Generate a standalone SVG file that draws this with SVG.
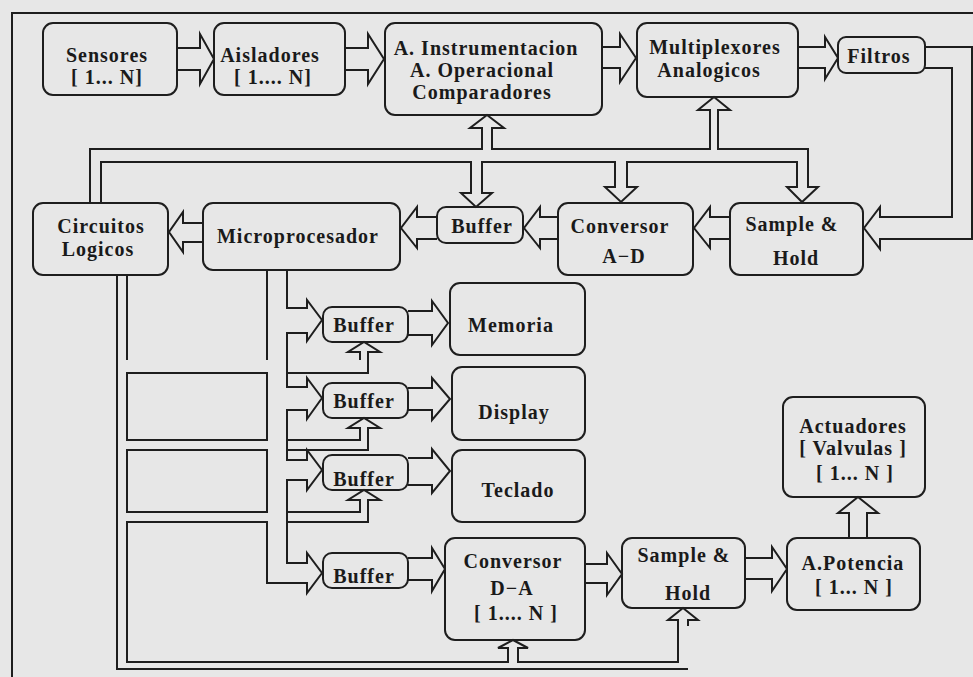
<svg xmlns="http://www.w3.org/2000/svg" width="973" height="677" viewBox="0 0 973 677">
  <style>
    .bg { fill: #e7e7e7; }
    .box { fill: none; stroke: #1e1e1e; stroke-width: 2; }
    .ln { fill: none; stroke: #1e1e1e; stroke-width: 2; stroke-linejoin: miter; }
    .t { font-family: "Liberation Serif", "Times New Roman", serif; font-weight: bold; font-size: 20px; letter-spacing: 1px; fill: #1a1a1a; text-anchor: middle; }
  </style>

  <rect class="bg" x="0" y="0" width="973" height="677"/>
  <!-- outer frame -->
  <path class="ln" d="M12,677 V13 H973"/>

  <!-- connectors -->
  <g id="connectors">
    <!-- top chain -->
    <polyline class="ln" points="177,48 200,48 200,34 214,59 200,84 200,70 177,70"/>
    <polyline class="ln" points="345,48 368,48 368,34 384,59 368,84 368,70 345,70"/>
    <polyline class="ln" points="602,47 620,47 620,34 636,58 620,82 620,68 602,68"/>
    <polyline class="ln" points="798,47 825,47 825,37 838,58 825,79 825,68 798,68"/>
    <!-- Filtros loop back to Sample & Hold -->
    <polyline class="ln" points="925,47 972,47 972,239 880,239 880,249 864,228 880,207 880,217 952,217 952,68 925,68"/>

    <!-- acquisition row -->
    <polyline class="ln" points="203,223 183,223 183,212 169,232 183,252 183,242 203,242"/>
    <polyline class="ln" points="437,217 417,217 417,207 401,228 417,248 417,239 437,239"/>
    <polyline class="ln" points="558,217 540,217 540,207 524,228 540,248 540,239 558,239"/>
    <polyline class="ln" points="730,217 710,217 710,207 694,228 710,248 710,239 730,239"/>

    <!-- control bus from Circuitos Logicos (upper) -->
    <polyline class="ln" points="90,203 90,149 482,149 482,128 470,128 487,115 504,128 492,128 492,149 710,149 710,110 698,110 714,97 730,110 718,110 718,149 808,149 808,187 818,187 802,202 787,187 797,187 797,162 627,162 627,187 637,187 621,202 605,187 615,187 615,162 482,162 482,193 492,193 476,207 461,193 471,193 471,162 101,162 101,203"/>

    <!-- lower buses -->
    <line class="ln" x1="127" y1="275" x2="127" y2="360"/>
    <line class="ln" x1="267" y1="270" x2="267" y2="360"/>
    <polyline class="ln" points="117,275 117,669 688,669"/>
    <rect class="box" x="127" y="373" width="140" height="67"/>
    <rect class="box" x="127" y="450" width="140" height="62"/>

    <!-- data bus from Microprocesador into buffers -->
    <polyline class="ln" points="287,270 287,308 307,308 307,300 322,320 307,341 307,333 287,333 287,387 307,387 307,378 322,398 307,419 307,410 287,410 287,460 307,460 307,450 322,470 307,490 307,480 287,480 287,563 307,563 307,553 322,573 307,593 307,583 267,583 267,522 127,522 127,662 508,662 508,648 498,648 513,640 528,648 518,648 518,662 678,662 678,620 668,620 683,608 698,620 688,620 688,626"/>

    <!-- buffer enables -->
    <polyline class="ln" points="287,373 368,373 368,352 380,352 364,342 348,352 360,352 360,360"/>
    <polyline class="ln" points="287,440 360,440 360,428 348,428 364,418 380,428 368,428 368,450 287,450"/>
    <polyline class="ln" points="287,512 360,512 360,500 348,500 364,490 380,500 368,500 368,522 287,522"/>

    <!-- buffer outputs -->
    <polyline class="ln" points="408,311 432,311 432,301 448,323 432,345 432,335 408,335"/>
    <polyline class="ln" points="408,388 432,388 432,378 450,399 432,420 432,410 408,410"/>
    <polyline class="ln" points="408,458 432,458 432,449 450,471 432,493 432,485 408,485"/>
    <polyline class="ln" points="408,558 432,558 432,548 445,569 432,591 432,580 408,580"/>

    <!-- output chain -->
    <polyline class="ln" points="585,564 607,564 607,553 622,574 607,595 607,583 585,583"/>
    <polyline class="ln" points="745,558 772,558 772,547 787,569 772,591 772,579 745,579"/>
    <polyline class="ln" points="849,538 849,513 838,513 858,497 878,513 867,513 867,538"/>
  </g>

  <g id="sensores">
    <rect class="box" x="43" y="23" width="134" height="72" rx="10"/>
    <text class="t" x="107" y="62">Sensores</text>
    <text class="t" x="107" y="84">[ 1... N]</text>
  </g>
  <g id="aisladores">
    <rect class="box" x="214" y="23" width="131" height="72" rx="10"/>
    <text class="t" x="270" y="62">Aisladores</text>
    <text class="t" x="273" y="84">[ 1.... N]</text>
  </g>
  <g id="instrumentacion">
    <rect class="box" x="385" y="23" width="217" height="92" rx="10"/>
    <text class="t" x="486" y="55">A. Instrumentacion</text>
    <text class="t" x="482" y="77">A. Operacional</text>
    <text class="t" x="482" y="99">Comparadores</text>
  </g>
  <g id="multiplexores">
    <rect class="box" x="637" y="23" width="161" height="74" rx="10"/>
    <text class="t" x="715" y="54">Multiplexores</text>
    <text class="t" x="709" y="77">Analogicos</text>
  </g>
  <g id="filtros">
    <rect class="box" x="838" y="37" width="87" height="36" rx="8"/>
    <text class="t" x="879" y="63">Filtros</text>
  </g>
  <g id="circuitos">
    <rect class="box" x="33" y="203" width="135" height="72" rx="10"/>
    <text class="t" x="101" y="233">Circuitos</text>
    <text class="t" x="98" y="256">Logicos</text>
  </g>
  <g id="microprocesador">
    <rect class="box" x="203" y="203" width="197" height="67" rx="10"/>
    <text class="t" x="298" y="243">Microprocesador</text>
  </g>
  <g id="buffer-ad">
    <rect class="box" x="437" y="207" width="86" height="36" rx="9"/>
    <text class="t" x="482" y="233">Buffer</text>
  </g>
  <g id="conversor-ad">
    <rect class="box" x="558" y="203" width="135" height="72" rx="10"/>
    <text class="t" x="620" y="233">Conversor</text>
    <text class="t" x="624" y="263">A−D</text>
  </g>
  <g id="sample-hold-in">
    <rect class="box" x="730" y="203" width="133" height="72" rx="10"/>
    <text class="t" x="792" y="231">Sample &amp;</text>
    <text class="t" x="796" y="265">Hold</text>
  </g>
  <g id="buffer-memoria">
    <rect class="box" x="323" y="307" width="85" height="35" rx="9"/>
    <text class="t" x="364" y="332">Buffer</text>
  </g>
  <g id="memoria">
    <rect class="box" x="450" y="283" width="135" height="72" rx="10"/>
    <text class="t" x="511" y="332">Memoria</text>
  </g>
  <g id="buffer-display">
    <rect class="box" x="323" y="383" width="85" height="35" rx="9"/>
    <text class="t" x="364" y="408">Buffer</text>
  </g>
  <g id="display">
    <rect class="box" x="452" y="367" width="133" height="73" rx="10"/>
    <text class="t" x="514" y="419">Display</text>
  </g>
  <g id="buffer-teclado">
    <rect class="box" x="323" y="455" width="85" height="35" rx="9"/>
    <text class="t" x="364" y="486">Buffer</text>
  </g>
  <g id="teclado">
    <rect class="box" x="452" y="450" width="133" height="72" rx="10"/>
    <text class="t" x="518" y="497">Teclado</text>
  </g>
  <g id="buffer-da">
    <rect class="box" x="323" y="553" width="85" height="35" rx="9"/>
    <text class="t" x="364" y="583">Buffer</text>
  </g>
  <g id="conversor-da">
    <rect class="box" x="445" y="538" width="140" height="102" rx="10"/>
    <text class="t" x="513" y="568">Conversor</text>
    <text class="t" x="512" y="595">D−A</text>
    <text class="t" x="516" y="620">[ 1.... N ]</text>
  </g>
  <g id="sample-hold-out">
    <rect class="box" x="622" y="538" width="123" height="70" rx="10"/>
    <text class="t" x="684" y="562">Sample &amp;</text>
    <text class="t" x="688" y="600">Hold</text>
  </g>
  <g id="potencia">
    <rect class="box" x="787" y="538" width="133" height="72" rx="10"/>
    <text class="t" x="853" y="570">A.Potencia</text>
    <text class="t" x="854" y="594">[ 1... N ]</text>
  </g>
  <g id="actuadores">
    <rect class="box" x="783" y="397" width="142" height="100" rx="10"/>
    <text class="t" x="853" y="433">Actuadores</text>
    <text class="t" x="853" y="455">[ Valvulas ]</text>
    <text class="t" x="855" y="480">[ 1... N ]</text>
  </g>
</svg>
